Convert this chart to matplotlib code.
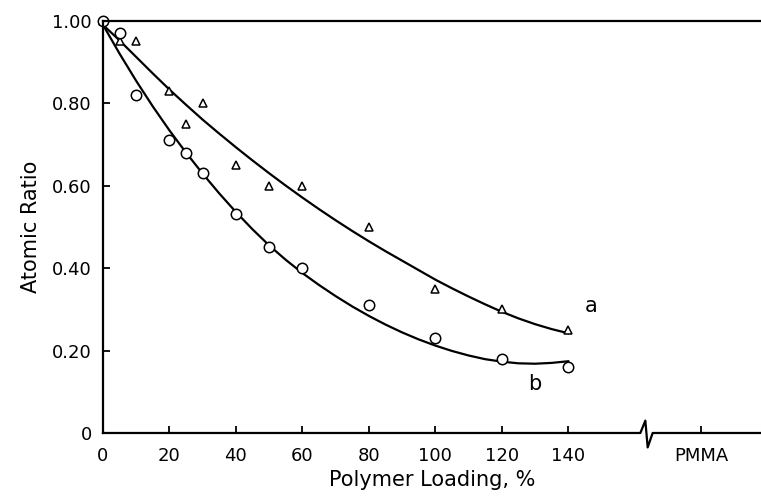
#Atomic ratio vs polymer loading, two fitted curves with data points
import matplotlib.pyplot as plt

#data
loadA = [0, 5, 10, 20, 25, 30, 40, 50, 60, 80, 100, 120, 140]
ratioA = [1.00, 0.95, 0.95, 0.83, 0.75, 0.80, 0.65, 0.60, 0.60, 0.50, 0.35, 0.30, 0.25]
loadB = [0, 5, 10, 20, 25, 30, 40, 50, 60, 80, 100, 120, 140]
ratioB = [1.00, 0.97, 0.82, 0.71, 0.68, 0.63, 0.53, 0.45, 0.40, 0.31, 0.23, 0.18, 0.16]

#smooth curves
curveX = [0, 5, 10, 15, 20, 25, 30, 35, 40, 45, 50, 55, 60, 65, 70,
          75, 80, 85, 90, 95, 100, 105, 110, 115, 120, 125, 130, 135, 140]
curveA = [0.99, 0.952, 0.912, 0.872, 0.833, 0.796, 0.760, 0.726, 0.693, 0.661, 0.630, 0.600, 0.571, 0.543, 0.516,
          0.490, 0.465, 0.441, 0.418, 0.395, 0.372, 0.351, 0.331, 0.312, 0.294, 0.278, 0.264, 0.252, 0.242]
curveB = [0.99, 0.920, 0.854, 0.792, 0.734, 0.680, 0.629, 0.581, 0.536, 0.494, 0.455, 0.420, 0.388, 0.359, 0.332,
          0.307, 0.284, 0.263, 0.244, 0.227, 0.212, 0.199, 0.188, 0.179, 0.173, 0.169, 0.168, 0.170, 0.174]

xticks = [0, 20, 40, 60, 80, 100, 120, 140, 180]
xlabels = ['0', '20', '40', '60', '80', '100', '120', '140', 'PMMA']
yticks = [0, 0.2, 0.4, 0.6, 0.8, 1.0]
ylabels = ['0', '0.20', '0.40', '0.60', '0.80', '1.00']

fig = plt.figure(figsize=(7.61, 4.99), dpi=100)
ax = fig.add_axes([0.1353, 0.1323, 0.8647, 0.8262])

ax.plot(curveX, curveA, color='black', lw=1.6)
ax.plot(curveX, curveB, color='black', lw=1.6)
ax.plot(loadA, ratioA, linestyle='none', marker='^', ms=6, mfc='white', mec='black', mew=1.1, clip_on=False)
ax.plot(loadB, ratioB, linestyle='none', marker='o', ms=7.5, mfc='white', mec='black', mew=1.1, clip_on=False)

ax.text(147, 0.307, 'a', fontsize=15, ha='center', va='center')
ax.text(130, 0.12, 'b', fontsize=15, ha='center', va='center')

ax.set_xlim(0, 198)
ax.set_ylim(0, 1.0)

#axis break on the x axis
ax.spines['bottom'].set_visible(False)
ax.spines['right'].set_visible(False)
ax.spines['top'].set_linewidth(1.6)
ax.spines['left'].set_linewidth(1.6)
ax.plot([0, 161.7, 163.2, 163.9, 165.4, 198], [0, 0, 0.03, -0.035, 0, 0], color='black', lw=1.6, clip_on=False)

ax.set_xticks(xticks)
ax.set_xticklabels(xlabels)
ax.set_yticks(yticks)
ax.set_yticklabels(ylabels)
ax.tick_params(direction='in', length=5, width=1.3, labelsize=13)
ax.tick_params(axis='x', pad=10)
ax.tick_params(axis='y', pad=8)

ax.set_xlabel('Polymer Loading, %', fontsize=15, labelpad=4)
ax.set_ylabel('Atomic Ratio', fontsize=15, labelpad=8)

fig.savefig('out.png', dpi=100)
